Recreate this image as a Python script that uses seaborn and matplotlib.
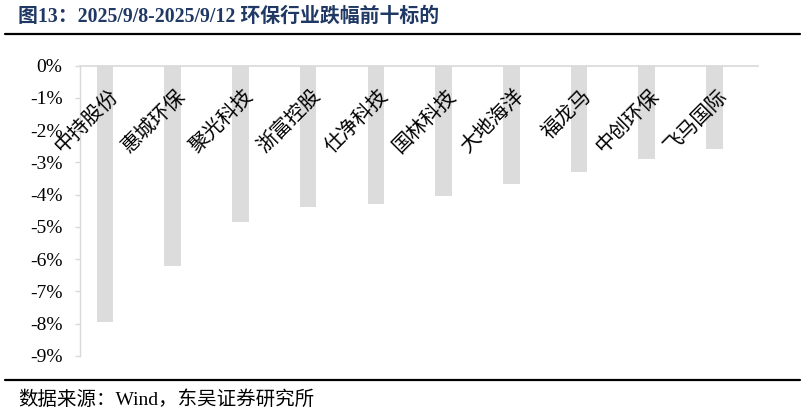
import matplotlib
matplotlib.use("Agg")
import matplotlib.pyplot as plt
import matplotlib.transforms as mtransforms
from matplotlib.lines import Line2D
import seaborn as sns
import pandas as pd

categories = ["中持股份", "惠城环保", "聚光科技", "浙富控股", "仕净科技",
              "国林科技", "大地海洋", "福龙马", "中创环保", "飞马国际"]
values = [-7.94, -6.20, -4.84, -4.38, -4.30, -4.05, -3.66, -3.31, -2.88, -2.57]
yticks = [0, -1, -2, -3, -4, -5, -6, -7, -8, -9]
ytick_labels = ["0%", "-1%", "-2%", "-3%", "-4%", "-5%", "-6%", "-7%", "-8%", "-9%"]
title_text = "图13：2025/9/8-2025/9/12 环保行业跌幅前十标的"
source_text = "数据来源：Wind，东吴证券研究所"

sns.set_theme(style="white")
plt.rcParams["font.family"] = ["Liberation Serif", "Noto Sans CJK SC", "DejaVu Sans"]

W, H = 805, 413
fig = plt.figure(figsize=(W / 100, H / 100), dpi=100)
ax = fig.add_axes([80 / W, 1 - 356 / H, (757.7 - 80) / W, (356 - 65.7) / H])

df = pd.DataFrame({"name": categories, "value": values})
sns.barplot(data=df, x="name", y="value", color="#dcdcdc", saturation=1,
            width=0.246, ax=ax, linewidth=0)

ax.set_axisbelow(False)
ax.set_xlim(-0.37, 9.64)
ax.set_ylim(-9, 0)
ax.set_xlabel("")
ax.set_ylabel("")

ax.set_yticks(yticks)
ax.set_yticklabels(ytick_labels, fontsize=14, family=["Liberation Serif"])
ax.tick_params(axis="y", direction="out", length=3.6, width=1, color="#d9d9d9",
               pad=9, left=True, labelcolor="#000000")

for s in ["top", "right"]:
    ax.spines[s].set_visible(False)
ax.spines["left"].set_color("#d9d9d9")
ax.spines["left"].set_linewidth(1)
ax.spines["bottom"].set_position(("data", 0))
ax.spines["bottom"].set_color("#d9d9d9")
ax.spines["bottom"].set_linewidth(1.2)

ax.set_xticks(range(len(categories)))
ax.set_xticklabels(categories, rotation=45, ha="right", va="top",
                   rotation_mode="anchor", fontsize=14.5,
                   family=["Noto Sans CJK SC"])
ax.tick_params(axis="x", length=0, pad=4, labelcolor="#000000")
offset = mtransforms.ScaledTranslation(2 / 100, -14 / 100, fig.dpi_scale_trans)
for lab in ax.get_xticklabels():
    lab.set_transform(lab.get_transform() + offset)

fig.text(18 / W, 1 - 17 / H, title_text, fontsize=14.3, fontweight="bold",
         color="#1f3864", ha="left", va="center",
         family=["Liberation Serif", "Noto Sans CJK SC"])
fig.add_artist(Line2D([5 / W, 800 / W], [1 - 34 / H, 1 - 34 / H],
                      color="#000000", linewidth=1.6))
fig.add_artist(Line2D([5 / W, 800 / W], [1 - 380 / H, 1 - 380 / H],
                      color="#000000", linewidth=1.6))
fig.text(18 / W, 1 - 400 / H, source_text, fontsize=14, color="#000000",
         ha="left", va="center", family=["Liberation Serif", "Noto Sans CJK SC"])

fig.savefig("out.png", dpi=100)
